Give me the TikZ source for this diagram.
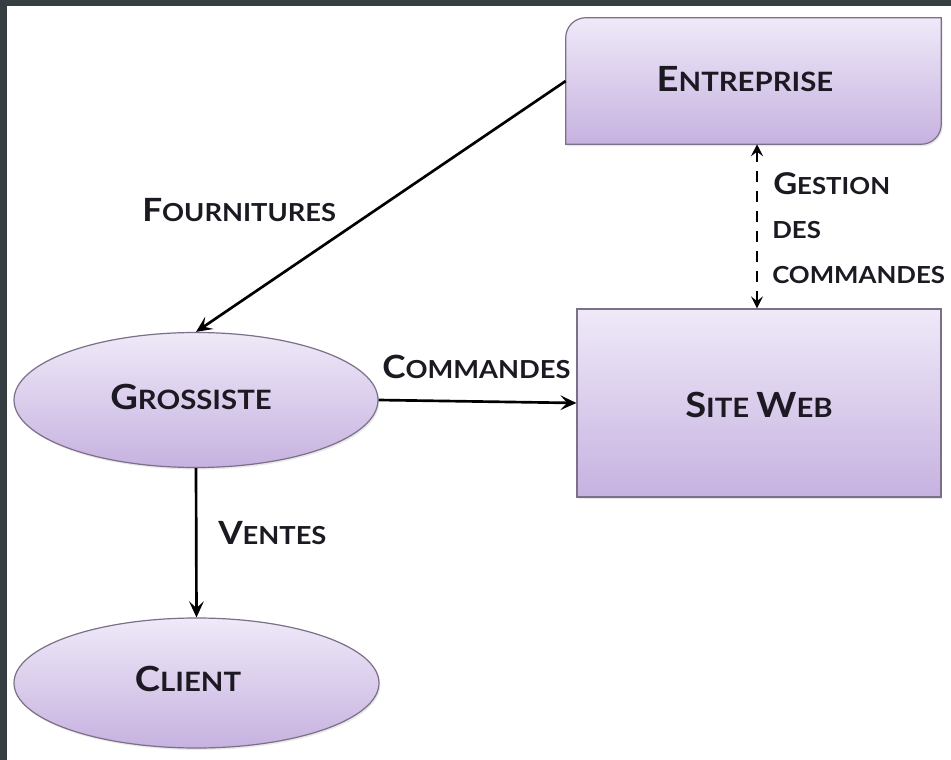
\documentclass[tikz,border=0pt]{standalone}
\usepackage{fontspec}
\setmainfont{Lato}
\usetikzlibrary{arrows.meta,shapes.geometric,shadows,calc}
\definecolor{frame}{HTML}{363E42}
\definecolor{topc}{HTML}{EFE9F8}
\definecolor{botc}{HTML}{C6B2E0}
\definecolor{edge}{HTML}{7C7088}
\definecolor{ink}{HTML}{1C1922}
\newcommand\scA[2]{{\fontsize{26}{26}\selectfont #1}{\fontsize{20}{20}\selectfont #2}}
\newcommand\scB[2]{{\fontsize{24}{24}\selectfont #1}{\fontsize{18.6}{18.6}\selectfont #2}}
\newcommand\scC[2]{{\fontsize{22.5}{22.5}\selectfont #1}{\fontsize{17.6}{17.6}\selectfont #2}}
\begin{document}
\begin{tikzpicture}[x=0.75pt,y=-0.75pt,
  shape base/.style={draw=edge, line width=0.9pt, top color=topc, bottom color=botc,
    inner sep=0pt, drop shadow={opacity=0.18, shadow xshift=1pt, shadow yshift=-1.5pt}},
  boxnode/.style={shape base, rectangle},
  ellnode/.style={shape base, ellipse},
  txt/.style={text=ink, font=\bfseries\addfontfeature{FakeStretch=1.1}, inner sep=0pt, anchor=base},
  ltxt/.style={txt, anchor=base west},
  arr/.style={draw=black, line width=2pt, -{Stealth[length=12pt,width=11pt,inset=5pt]}},
  darr/.style={draw=black, line width=2pt, dash pattern=on 8pt off 7pt,
    {Stealth[length=9pt,width=9pt,inset=3.5pt]}-{Stealth[length=9pt,width=9pt,inset=3.5pt]}}]
\useasboundingbox (0,0) rectangle (951,760);
\fill[frame] (0,0) rectangle (951,760);
\fill[white] (7,6) rectangle (951,760);

% Entreprise (only top-left and bottom-right corners rounded)
\node[minimum width=281.25pt, minimum height=94.5pt, inner sep=0pt] (ent) at (753.5,81) {};
\path[draw=edge, line width=0.9pt, top color=topc, bottom color=botc,
  drop shadow={opacity=0.18, shadow xshift=1pt, shadow yshift=-1.5pt}]
  (ent.south west) -- ($(ent.north west)+(0,20)$)
  .. controls ($(ent.north west)+(0,9)$) and ($(ent.north west)+(9,0)$) .. ($(ent.north west)+(20,0)$)
  -- (ent.north east) -- ($(ent.south east)+(0,-20)$)
  .. controls ($(ent.south east)+(0,-9)$) and ($(ent.south east)+(-9,0)$) .. ($(ent.south east)+(-20,0)$)
  -- cycle;
\node[txt] (entl) at (745,91) {\scA{E}{NTREPRISE}};

% Site Web
\node[boxnode, minimum width=273pt, minimum height=141pt] (site) at (759,403) {};
\node[txt] (sitel) at (759,417) {\scA{S}{ITE }\scA{W}{EB}};

% Grossiste
\node[ellnode, minimum width=273pt, minimum height=101.25pt] (gro) at (196,400) {};
\node[txt] (grol) at (191,409) {\scA{G}{ROSSISTE}};

% Client
\node[ellnode, minimum width=273.75pt, minimum height=97.5pt] (cli) at (196.5,683) {};
\node[txt] (clil) at (188,691) {\scA{C}{LIENT}};

% connectors
\draw[arr] (ent.west) -- (gro.north);
\draw[arr] (gro.east) -- (site.west);
\draw[arr] (gro.south) -- (cli.north);
\coordinate (gtop) at ($(site.north)+(-2,0)$);
\draw[darr] (gtop |- ent.south) -- (gtop);

% edge labels
\node[ltxt] (fourn) at (142,221) {\scB{F}{OURNITURES}};
\node[ltxt] (comm) at (382,378) {\scB{C}{OMMANDES}};
\node[ltxt] (vent) at (218,544) {\scB{V}{ENTES}};
\node[ltxt] (gest1) at (773,194) {\scC{G}{ESTION}};
\node[ltxt] (gest2) at (772,238) {\scC{}{DES}};
\node[ltxt] (gest3) at (772,283) {\scC{}{COMMANDES}};
\end{tikzpicture}
\end{document}
